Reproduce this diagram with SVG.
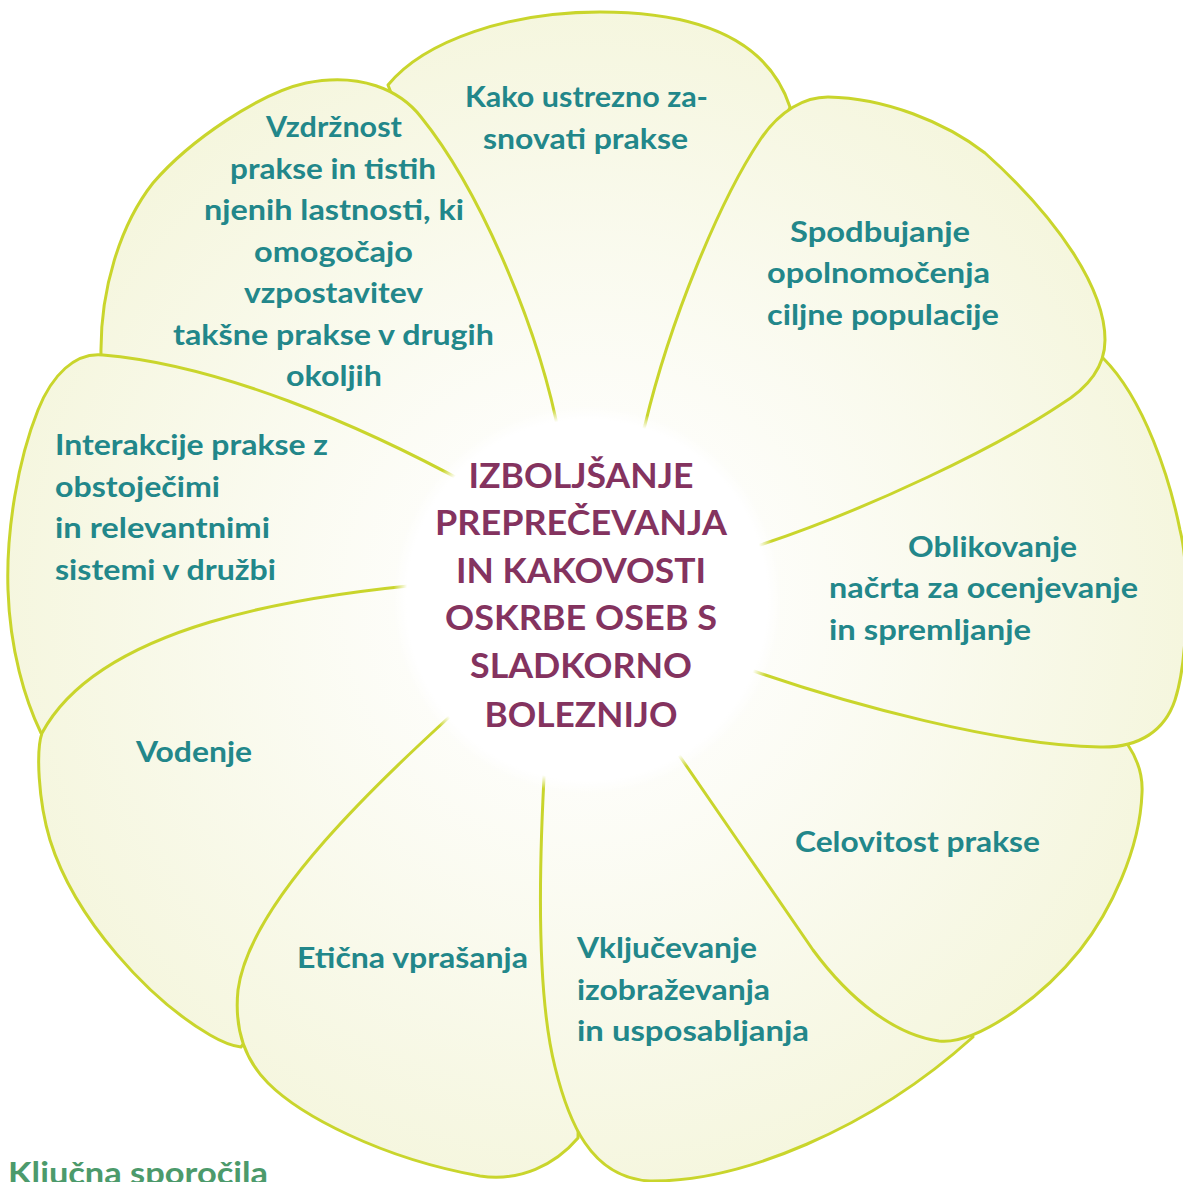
<svg xmlns="http://www.w3.org/2000/svg" width="1183" height="1182" viewBox="0 0 1183 1182">
<defs>
<radialGradient id="pf" gradientUnits="userSpaceOnUse" cx="587" cy="600" r="600">
<stop offset="0.3" stop-color="#fdfdf9"/>
<stop offset="1" stop-color="#f5f6de"/>
</radialGradient>
<radialGradient id="cf" gradientUnits="userSpaceOnUse" cx="587" cy="600" r="194">
<stop offset="0" stop-color="#ffffff" stop-opacity="1"/>
<stop offset="0.93" stop-color="#ffffff" stop-opacity="1"/>
<stop offset="1" stop-color="#ffffff" stop-opacity="0"/>
</radialGradient>
<style>
.petal{fill:url(#pf);stroke:#c9d52c;stroke-width:3;stroke-linejoin:round}
.t{font-family:Lato,"Liberation Sans",sans-serif;font-weight:700;font-size:28px;fill:#22878a}
.c{font-family:Lato,"Liberation Sans",sans-serif;font-weight:700;font-size:35px;fill:#84335f;text-anchor:middle}
.k{font-family:Lato,"Liberation Sans",sans-serif;font-weight:700;font-size:30px;fill:#4c9a6b}
</style>
</defs>
<rect width="1183" height="1182" fill="#ffffff"/>

<g id="petal-kako">
<path class="petal" d="M587,600 L388,85 C425,40 510,12 600,12 C700,12 768,40 790,107 Z"/>
<text class="t" x="465" y="107" textLength="243" lengthAdjust="spacingAndGlyphs">Kako ustrezno za-</text>
<text class="t" x="483" y="149" textLength="205" lengthAdjust="spacingAndGlyphs">snovati prakse</text>
</g>

<g id="petal-vzdrznost">
<path class="petal" d="M587,600 L560,440 C540,330 480,190 421,117 C400,90 360,72 306,83 C260,93 190,140 153,183 C120,225 100,290 101,355 Z"/>
<text class="t" x="266" y="137" textLength="136" lengthAdjust="spacingAndGlyphs">Vzdržnost</text>
<text class="t" x="230" y="179" textLength="206" lengthAdjust="spacingAndGlyphs">prakse in tistih</text>
<text class="t" x="204" y="220" textLength="260" lengthAdjust="spacingAndGlyphs">njenih lastnosti, ki</text>
<text class="t" x="254" y="262" textLength="159" lengthAdjust="spacingAndGlyphs">omogočajo</text>
<text class="t" x="244" y="303" textLength="179" lengthAdjust="spacingAndGlyphs">vzpostavitev</text>
<text class="t" x="173" y="345" textLength="321" lengthAdjust="spacingAndGlyphs">takšne prakse v drugih</text>
<text class="t" x="286" y="386" textLength="96" lengthAdjust="spacingAndGlyphs">okoljih</text>
</g>

<g id="petal-interakcije">
<path class="petal" d="M470,485 C360,425 220,365 103,355 C75,352 52,375 38,410 C18,460 6,530 8,590 C10,650 25,700 41,733 L587,600 Z"/>
<text class="t" x="55" y="455" textLength="273" lengthAdjust="spacingAndGlyphs">Interakcije prakse z</text>
<text class="t" x="55" y="497" textLength="165" lengthAdjust="spacingAndGlyphs">obstoječimi</text>
<text class="t" x="55" y="538" textLength="215" lengthAdjust="spacingAndGlyphs">in relevantnimi</text>
<text class="t" x="55" y="580" textLength="221" lengthAdjust="spacingAndGlyphs">sistemi v družbi</text>
</g>

<g id="petal-vodenje">
<path class="petal" d="M440,583 C300,595 100,625 42,733 C36,750 38,800 50,840 C75,920 150,1000 210,1035 C222,1042 232,1046 241,1047 L587,600 Z"/>
<text class="t" x="136" y="762" textLength="116" lengthAdjust="spacingAndGlyphs">Vodenje</text>
</g>

<g id="petal-eticna">
<path class="petal" d="M470,698 C380,780 250,900 238,990 C234,1030 245,1060 268,1083 C300,1115 380,1158 480,1176 C520,1182 555,1165 578,1138 L587,600 Z"/>
<text class="t" x="297" y="968" textLength="231" lengthAdjust="spacingAndGlyphs">Etična vprašanja</text>
</g>

<g id="petal-vkljucevanje">
<path class="petal" d="M545,760 C538,880 538,1000 555,1067 C568,1120 590,1178 650,1181 C740,1182 870,1130 973,1037 L587,600 Z"/>
<text class="t" x="577" y="958" textLength="180" lengthAdjust="spacingAndGlyphs">Vključevanje</text>
<text class="t" x="577" y="1000" textLength="193" lengthAdjust="spacingAndGlyphs">izobraževanja</text>
<text class="t" x="577" y="1041" textLength="232" lengthAdjust="spacingAndGlyphs">in usposabljanja</text>
</g>

<g id="petal-celovitost">
<path class="petal" d="M672,745 C710,800 775,895 813,950 C850,1000 895,1035 939,1041 C975,1045 1040,1000 1080,950 C1110,912 1140,850 1142,793 C1143,775 1138,760 1128,745 L1105,728 L587,600 Z"/>
<text class="t" x="795" y="852" textLength="245" lengthAdjust="spacingAndGlyphs">Celovitost prakse</text>
</g>

<g id="petal-oblikovanje">
<path class="petal" d="M745,668 C850,705 1000,745 1100,747 C1140,748 1165,730 1175,700 C1188,660 1190,570 1180,530 C1170,480 1145,400 1103,358 L587,600 Z"/>
<text class="t" x="908" y="557" textLength="169" lengthAdjust="spacingAndGlyphs">Oblikovanje</text>
<text class="t" x="829" y="598" textLength="309" lengthAdjust="spacingAndGlyphs">načrta za ocenjevanje</text>
<text class="t" x="829" y="640" textLength="202" lengthAdjust="spacingAndGlyphs">in spremljanje</text>
</g>

<g id="petal-spodbujanje">
<path class="petal" d="M745,550 C870,510 1000,445 1060,405 C1085,390 1105,370 1105,340 C1105,290 1060,220 985,153 C945,122 885,98 828,97 C805,97 780,110 760,140 C720,200 670,320 645,425 L620,500 Z"/>
<text class="t" x="790" y="242" textLength="180" lengthAdjust="spacingAndGlyphs">Spodbujanje</text>
<text class="t" x="767" y="283" textLength="223" lengthAdjust="spacingAndGlyphs">opolnomočenja</text>
<text class="t" x="767" y="325" textLength="232" lengthAdjust="spacingAndGlyphs">ciljne populacije</text>
</g>

<g id="center">
<circle cx="587" cy="600" r="194" fill="url(#cf)"/>
<text class="c" x="581" y="488" textLength="225" lengthAdjust="spacingAndGlyphs">IZBOLJŠANJE</text>
<text class="c" x="581" y="535" textLength="292" lengthAdjust="spacingAndGlyphs">PREPREČEVANJA</text>
<text class="c" x="581" y="583" textLength="250" lengthAdjust="spacingAndGlyphs">IN KAKOVOSTI</text>
<text class="c" x="581" y="630" textLength="272" lengthAdjust="spacingAndGlyphs">OSKRBE OSEB S</text>
<text class="c" x="581" y="678" textLength="222" lengthAdjust="spacingAndGlyphs">SLADKORNO</text>
<text class="c" x="581" y="727" textLength="193" lengthAdjust="spacingAndGlyphs">BOLEZNIJO</text>
</g>

<g id="caption">
<text class="k" x="8" y="1184" textLength="260" lengthAdjust="spacingAndGlyphs">Ključna sporočila</text>
</g>
</svg>
